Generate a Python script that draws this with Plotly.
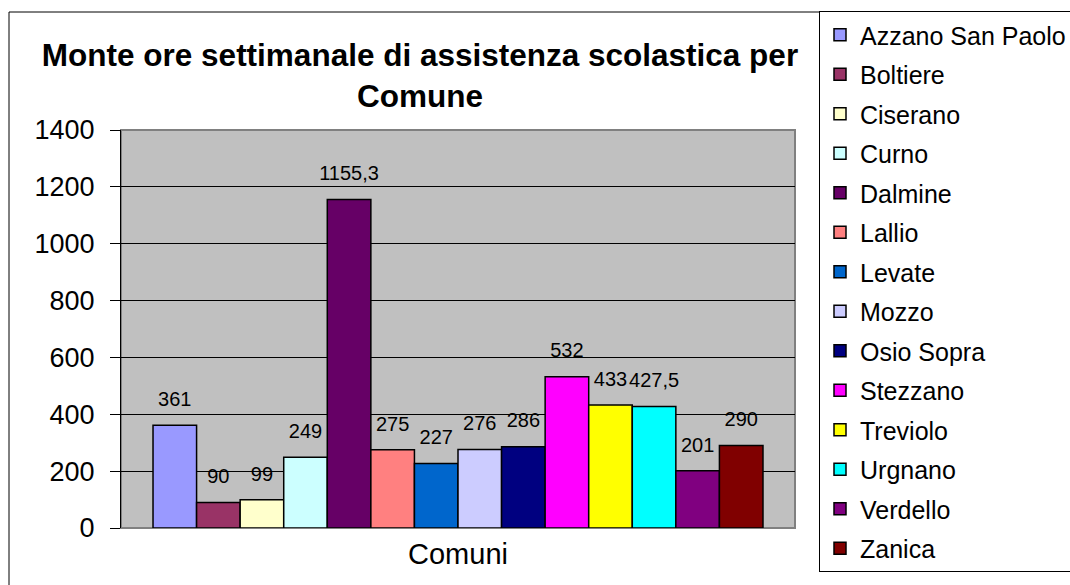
import plotly.graph_objects as go

comuni = ["Azzano San Paolo", "Boltiere", "Ciserano", "Curno", "Dalmine", "Lallio",
          "Levate", "Mozzo", "Osio Sopra", "Stezzano", "Treviolo", "Urgnano",
          "Verdello", "Zanica"]
ore = [361, 90, 99, 249, 1155.3, 275, 227, 276, 286, 532, 433, 427.5, 201, 290]
colori = ["#9999FF", "#993366", "#FFFFCC", "#CCFFFF", "#660066", "#FF8080",
          "#0066CC", "#CCCCFF", "#000080", "#FF00FF", "#FFFF00", "#00FFFF",
          "#800080", "#800000"]
categoria = ["Comuni"]
y_ticks = [0, 200, 400, 600, 800, 1000, 1200, 1400]

FONT = "Liberation Sans, Arial, sans-serif"
W, H = 1070, 585
L, R, T, B = 121, 795, 130, 528


def fmt(v):
    return ("%g" % v).replace(".", ",")


fig = go.Figure()
for name, val, col in zip(comuni, ore, colori):
    label = "<span style='font-size:20px'>%s</span><br> " % fmt(val)
    fig.add_trace(go.Bar(
        name=name, x=categoria, y=[val], legendgroup=name,
        marker=dict(color=col, line=dict(color="black", width=1.5)),
        text=[label], texttemplate="%{text}", textposition="outside",
        textfont=dict(family=FONT, size=11, color="black"),
        constraintext="none", cliponaxis=False, hoverinfo="name+y",
    ))


def px_x(p):
    return (p - L) / (R - L)


def px_y(p):
    return (B - p) / (B - T)


shapes = [
    # plot area border
    dict(type="rect", xref="paper", yref="paper", x0=0, x1=1, y0=0, y1=1,
         line=dict(color="#808080", width=2), layer="between"),
    # outer chart border
    dict(type="rect", xref="paper", yref="paper", x0=px_x(9), x1=px_x(1080),
         y0=px_y(595), y1=px_y(12), line=dict(color="black", width=1), layer="below"),
]

fig.update_layout(
    width=W, height=H,
    margin=dict(l=L, r=W - R, t=T, b=H - B, autoexpand=False),
    paper_bgcolor="white", plot_bgcolor="#C0C0C0",
    font=dict(family=FONT, color="black"),
    barmode="group", bargap=0.095, bargroupgap=0,
    title=dict(text="<b>Monte ore settimanale di assistenza scolastica per<br>Comune</b>",
               font=dict(family=FONT, size=31.5, color="black"),
               x=420 / W, xanchor="center", xref="container",
               y=1 - 66 / H, yanchor="top", yref="container"),
    xaxis=dict(type="category", showgrid=False, showline=False, ticks="",
               tickfont=dict(family=FONT, size=29, color="black"),
               ticklabelstandoff=6),
    yaxis=dict(range=[0, 1400], tickvals=y_ticks, showgrid=True, gridcolor="black",
               gridwidth=1, zeroline=False, showline=True, linecolor="black",
               linewidth=1, ticks="outside", ticklen=10, tickcolor="black",
               tickfont=dict(family=FONT, size=27, color="black"),
               ticklabelstandoff=10),
    legend=dict(xref="container", yref="container", x=819 / W, xanchor="left",
                y=1 - 11 / H, yanchor="top", bgcolor="white", bordercolor="black",
                borderwidth=1, font=dict(family=FONT, size=25, color="black"),
                traceorder="grouped", tracegroupgap=4, maxheight=580),
    shapes=shapes,
)

fig.write_html("out.html", config={"displayModeBar": False},
               post_script="document.body.style.margin='0';")
